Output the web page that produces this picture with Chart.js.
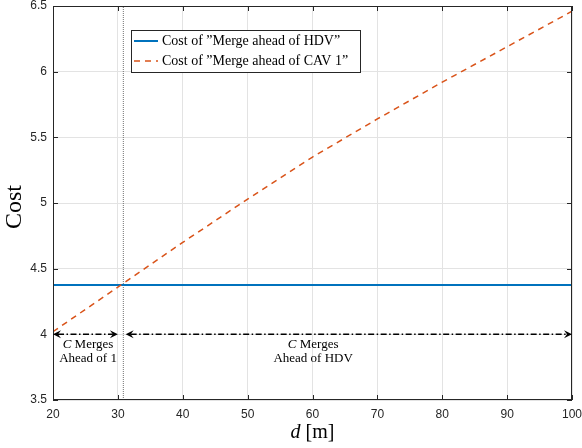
<!DOCTYPE html>
<html><head><meta charset="utf-8">
<script src="https://cdn.jsdelivr.net/npm/chart.js@4"></script>
<style>html,body{margin:0;padding:0;background:#fff}#wrap{width:582px;height:448px}</style>
</head><body><div id="wrap"><canvas id="c" width="582" height="448"></canvas></div>
<script>
// ---- data ----
const dValues   = [20, 30, 40, 50, 60, 70, 80, 90, 100];
const costCav1  = [4.02, 4.36, 4.70, 5.03, 5.35, 5.64, 5.92, 6.19, 6.46];
const hdvD      = [20, 100];
const costHdv   = [4.375, 4.375];
const switchD   = 30.84;
const switchY   = [3.5, 6.5];
const xMin = 20, xMax = 100, xStep = 10;
const yMin = 3.5, yMax = 6.5, yStep = 0.5;
const seriesLabels = ['Cost of \u201DMerge ahead of HDV\u201D', 'Cost of \u201DMerge ahead of CAV 1\u201D'];
const arrowFrom  = [20, 31.2];
const arrowTo    = [30.0, 100];
const arrowY     = 4.0;
const regionTextX = [25.4, 60.1];
const regionLine1 = [['C', ' Merges'], ['C', ' Merges']];
const regionLine2 = ['Ahead of 1', 'Ahead of HDV'];
const xTitle = ['d', ' [m]'];
const yTitle = 'Cost';

const BLUE = '#0072BD', ORANGE = '#D95319', AX = '#262626';
const SERIF = '"Liberation Serif", "DejaVu Serif", serif';

function arrowHead(ctx, tipX, tipY, dir) {
  const len = 8, hw = 4, notch = 3;
  ctx.beginPath();
  ctx.moveTo(tipX, tipY);
  ctx.lineTo(tipX - dir * len, tipY - hw);
  ctx.lineTo(tipX - dir * (len - notch), tipY);
  ctx.lineTo(tipX - dir * len, tipY + hw);
  ctx.closePath();
  ctx.fill();
}

function mixedText(ctx, parts, styles, cx, cy) {
  let w = 0;
  const ws = parts.map((p, i) => { ctx.font = styles[i]; const m = ctx.measureText(p).width; w += m; return m; });
  let x = cx - w / 2;
  parts.forEach((p, i) => { ctx.font = styles[i]; ctx.fillText(p, x, cy); x += ws[i]; });
}

const decor = {
  id: 'decor',
  afterDraw(chart) {
    const { ctx, chartArea: a, scales: { x, y } } = chart;
    ctx.save();
    ctx.strokeStyle = AX; ctx.lineWidth = 1;
    const L = 5;
    ctx.beginPath();
    x.ticks.forEach(t => {
      const px = Math.round(x.getPixelForValue(t.value)) + 0.5;
      ctx.moveTo(px, a.bottom); ctx.lineTo(px, a.bottom - L);
      ctx.moveTo(px, a.top); ctx.lineTo(px, a.top + L);
    });
    y.ticks.forEach(t => {
      const py = Math.round(y.getPixelForValue(t.value)) + 0.5;
      ctx.moveTo(a.left, py); ctx.lineTo(a.left + L, py);
      ctx.moveTo(a.right, py); ctx.lineTo(a.right - L, py);
    });
    ctx.stroke();
    ctx.strokeRect(Math.round(a.left) + 0.5, Math.round(a.top) + 0.5, Math.round(a.right - a.left) - 1, Math.round(a.bottom - a.top) - 1);

    const ay = y.getPixelForValue(arrowY);
    ctx.strokeStyle = '#000'; ctx.fillStyle = '#000'; ctx.lineWidth = 1.5;
    for (let i = 0; i < arrowFrom.length; i++) {
      const x0 = x.getPixelForValue(arrowFrom[i]), x1 = x.getPixelForValue(arrowTo[i]);
      ctx.setLineDash([6, 2.5, 1.5, 2.5]);
      ctx.beginPath(); ctx.moveTo(x0 + 5, ay); ctx.lineTo(x1 - 5, ay); ctx.stroke();
      ctx.setLineDash([]);
      arrowHead(ctx, x0, ay, -1);
      arrowHead(ctx, x1, ay, 1);
      const tx = x.getPixelForValue(regionTextX[i]);
      ctx.fillStyle = '#000'; ctx.textBaseline = 'middle';
      mixedText(ctx, regionLine1[i], ['italic 13px ' + SERIF, '13px ' + SERIF], tx, ay + 10);
      ctx.font = '13px ' + SERIF; ctx.textAlign = 'center';
      ctx.fillText(regionLine2[i], tx, ay + 24);
      ctx.textAlign = 'left';
    }

    const lx = a.left + 78, ly = a.top + 24, lw = 229, lh = 42;
    ctx.fillStyle = '#fff'; ctx.fillRect(lx, ly, lw, lh);
    ctx.strokeStyle = AX; ctx.lineWidth = 1;
    ctx.strokeRect(Math.round(lx) + 0.5, Math.round(ly) + 0.5, lw, lh);
    chart.data.datasets.slice(0, 2).forEach((ds, i) => {
      const ry = ly + 11 + i * 20;
      ctx.strokeStyle = ds.borderColor; ctx.lineWidth = ds.borderWidth;
      ctx.setLineDash(ds.borderDash || []);
      ctx.beginPath(); ctx.moveTo(lx + 3, ry); ctx.lineTo(lx + 27, ry); ctx.stroke();
      ctx.setLineDash([]);
      ctx.fillStyle = '#000'; ctx.font = '14px ' + SERIF; ctx.textBaseline = 'middle'; ctx.textAlign = 'left';
      ctx.fillText(ds.label, lx + 31, ry + 0.5);
    });

    ctx.fillStyle = '#000'; ctx.textBaseline = 'middle';
    mixedText(ctx, xTitle, ['italic 20px ' + SERIF, '20px ' + SERIF], (a.left + a.right) / 2, 433);
    ctx.save();
    ctx.translate(15, 207);
    ctx.rotate(-Math.PI / 2);
    ctx.font = '24px ' + SERIF; ctx.textAlign = 'center';
    ctx.fillText(yTitle, 0, 0);
    ctx.restore();
    ctx.restore();
  }
};

new Chart(document.getElementById('c'), {
  type: 'line',
  data: {
    datasets: [
      { label: seriesLabels[0], data: hdvD.map((d, i) => ({ x: d, y: costHdv[i] })), borderColor: BLUE, borderWidth: 2, pointRadius: 0, fill: false, order: 2 },
      { label: seriesLabels[1], data: dValues.map((d, i) => ({ x: d, y: costCav1[i] })), borderColor: ORANGE, borderWidth: 1.5, borderDash: [6, 5], pointRadius: 0, fill: false, tension: 0, order: 1 },
      { label: 'switch', data: switchY.map(v => ({ x: switchD, y: v })), borderColor: '#707070', borderWidth: 1, borderDash: [1, 1], pointRadius: 0, fill: false, order: 3 }
    ]
  },
  options: {
    responsive: false,
    animation: false,
    devicePixelRatio: 1,
    layout: { padding: { top: 6, right: 10, left: 0, bottom: 0 } },
    plugins: { legend: { display: false }, tooltip: { enabled: false } },
    scales: {
      x: {
        type: 'linear', min: xMin, max: xMax,
        ticks: { stepSize: xStep, color: AX, padding: 7, font: { family: '"Liberation Sans", Arial, sans-serif', size: 12 }, maxRotation: 0 },
        grid: { color: '#e3e3e3', lineWidth: 1, drawTicks: false },
        border: { display: false },
        afterFit(s) { s.height = 48; s.paddingLeft = 0; s.paddingRight = 0; }
      },
      y: {
        type: 'linear', min: yMin, max: yMax,
        ticks: { stepSize: yStep, color: AX, padding: 6, font: { family: '"Liberation Sans", Arial, sans-serif', size: 12 }, callback: v => String(v) },
        grid: { color: '#e3e3e3', lineWidth: 1, drawTicks: false },
        border: { display: false },
        afterFit(s) { s.width = 53; s.paddingTop = 0; s.paddingBottom = 0; }
      }
    }
  },
  plugins: [decor]
});
</script>
</body></html>
